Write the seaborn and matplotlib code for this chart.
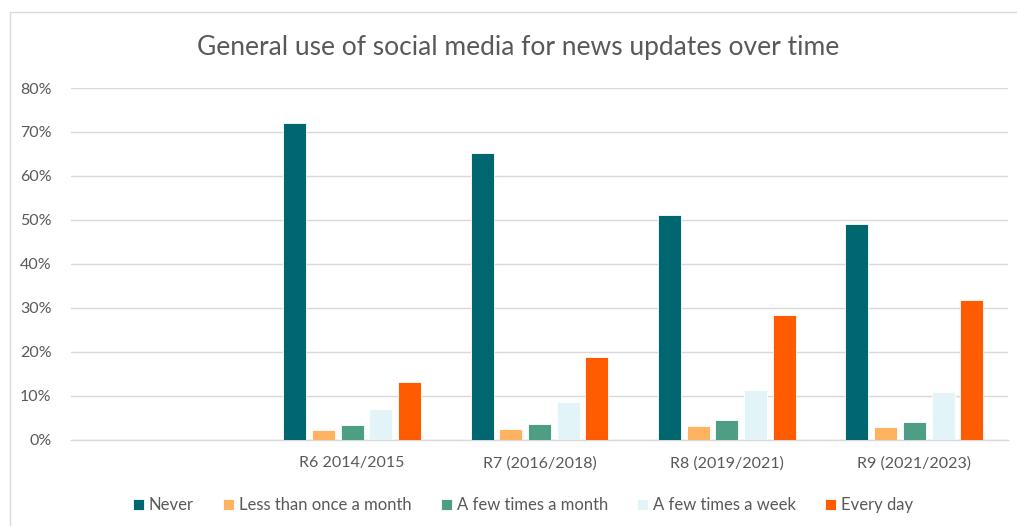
import matplotlib
matplotlib.use("Agg")
import matplotlib.pyplot as plt
import seaborn as sns
import pandas as pd
from matplotlib.ticker import PercentFormatter

# Survey rounds (first slot is intentionally left empty)
rounds = [" ", "R6 2014/2015", "R7 (2016/2018)", "R8 (2019/2021)", "R9 (2021/2023)"]
frequencies = ["Never", "Less than once a month", "A few times a month",
               "A few times a week", "Every day"]

# Share of respondents (%) per round, one list per frequency
never = [72.0, 65.1, 51.1, 49.1]
less_than_monthly = [2.1, 2.4, 3.0, 2.8]
few_times_month = [3.2, 3.5, 4.4, 4.0]
few_times_week = [6.9, 8.6, 11.2, 10.9]
every_day = [13.1, 18.8, 28.4, 31.7]

palette = ["#00666F", "#FFB260", "#4E9E86", "#E3F4F8", "#FF5B00"]

series = [never, less_than_monthly, few_times_month, few_times_week, every_day]
rows = []
for freq, vals in zip(frequencies, series):
    for rnd, v in zip(rounds[1:], vals):
        rows.append({"round": rnd, "frequency": freq, "share": v / 100})
df = pd.DataFrame(rows)

sns.set_theme(style="white")
plt.rcParams["font.family"] = ["Lato", "DejaVu Sans"]
text_color = "#595959"

fig = plt.figure(figsize=(10.17, 5.26), dpi=100)
ax = fig.add_axes([71 / 1017, 1 - 439.5 / 526, 937 / 1017, (439.5 - 88) / 526])

sns.barplot(data=df, x="round", y="share", hue="frequency", order=rounds,
            hue_order=frequencies, palette=palette, width=0.767, gap=0.2,
            saturation=1, edgecolor="white", linewidth=0.6, ax=ax, zorder=3)

ax.set_ylim(0, 0.8)
ax.set_yticks([i / 10 for i in range(9)])
ax.yaxis.set_major_formatter(PercentFormatter(1.0, decimals=0))
ax.grid(axis="y", color="#D9D9D9", linewidth=1.0, zorder=0)
for side in ["top", "right", "left"]:
    ax.spines[side].set_visible(False)
ax.spines["bottom"].set_color("#D9D9D9")
ax.spines["bottom"].set_linewidth(1.0)
ax.tick_params(axis="both", length=0, labelsize=11.5, colors=text_color)
ax.tick_params(axis="y", pad=14)
ax.tick_params(axis="x", pad=12)
ax.set_xlabel("")
ax.set_ylabel("")

fig.text(518 / 1017, 1 - 47 / 526, "General use of social media for news updates over time",
         ha="center", va="center", fontsize=19, color=text_color)

handles, labels = ax.get_legend_handles_labels()
ax.legend_.remove()
fig.legend(handles, labels, loc="center", bbox_to_anchor=(523 / 1017, 1 - 505 / 526),
           ncol=5, frameon=False, fontsize=12, labelcolor=text_color,
           handlelength=0.65, handleheight=0.65, handletextpad=0.3, columnspacing=1.75)

# Light border around the chart area
fig.patches.append(plt.Rectangle((9.5 / 1017, -0.05), 1.1, 1 - 12 / 526 + 0.05,
                                 transform=fig.transFigure, fill=False,
                                 edgecolor="#D9D9D9", linewidth=1.0))

fig.savefig("out.png", dpi=100, facecolor="white")
